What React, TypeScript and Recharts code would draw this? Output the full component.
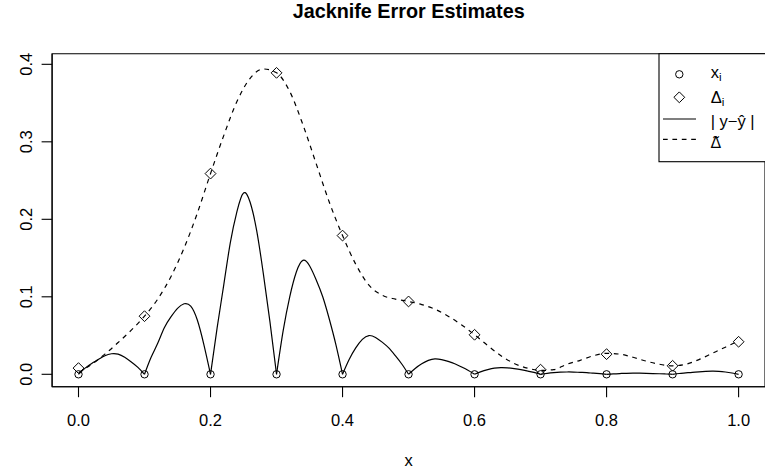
import React from "react";
import { ComposedChart, Line, Scatter, XAxis, YAxis, ReferenceArea } from "recharts";

const FONT = '"Liberation Sans", Arial, Helvetica, sans-serif';

// interpolation nodes x_i and the jackknife estimates at each node
const nodeX = [0, 0.1, 0.2, 0.3, 0.4, 0.5, 0.6, 0.7, 0.8, 0.9, 1.0];
const nodeResidual = [0, 0, 0, 0, 0, 0, 0, 0, 0, 0, 0];
const deltaI = [0.008, 0.075, 0.259, 0.389, 0.179, 0.094, 0.051, 0.006, 0.026, 0.011, 0.042];

// true absolute error |y - yhat| on a fine grid
const errX = [
  0.0, 0.01, 0.02, 0.03, 0.04, 0.05, 0.06, 0.07, 0.08, 0.09,
  0.1, 0.11, 0.12, 0.13, 0.14, 0.15, 0.16, 0.17, 0.18, 0.19,
  0.2, 0.21, 0.22, 0.23, 0.24, 0.25, 0.26, 0.27, 0.28, 0.29,
  0.3, 0.31, 0.32, 0.33, 0.34, 0.35, 0.36, 0.37, 0.38, 0.39,
  0.4, 0.41, 0.42, 0.43, 0.44, 0.45, 0.46, 0.47, 0.48, 0.49,
  0.5, 0.51, 0.52, 0.53, 0.54, 0.55, 0.56, 0.57, 0.58, 0.59,
  0.6, 0.61, 0.62, 0.63, 0.64, 0.65, 0.66, 0.67, 0.68, 0.69,
  0.7, 0.71, 0.72, 0.73, 0.74, 0.75, 0.76, 0.77, 0.78, 0.79,
  0.8, 0.81, 0.82, 0.83, 0.84, 0.85, 0.86, 0.87, 0.88, 0.89,
  0.9, 0.91, 0.92, 0.93, 0.94, 0.95, 0.96, 0.97, 0.98, 0.99,
  1.0,
];
const absErr = [
  0, 0.008, 0.014, 0.019, 0.024, 0.0265, 0.026, 0.022, 0.016, 0.009,
  0, 0.022, 0.04, 0.06, 0.074, 0.085, 0.091, 0.088, 0.07, 0.038,
  0, 0.06, 0.115, 0.17, 0.21, 0.234, 0.222, 0.185, 0.13, 0.068,
  0, 0.056, 0.1, 0.132, 0.147, 0.14, 0.122, 0.1, 0.071, 0.038,
  0, 0.019, 0.034, 0.045, 0.05, 0.0475, 0.0415, 0.034, 0.024, 0.013,
  0, 0.0076, 0.0136, 0.018, 0.02, 0.019, 0.0166, 0.0136, 0.0096, 0.0052,
  0, 0.0035, 0.006, 0.0079, 0.0086, 0.0083, 0.0073, 0.006, 0.0043, 0.0024,
  0, 0.0012, 0.0021, 0.0027, 0.003, 0.0029, 0.0025, 0.0021, 0.0014, 0.0008,
  0, 0.0006, 0.001, 0.0013, 0.0015, 0.0015, 0.0013, 0.001, 0.0007, 0.0004,
  0, 0.001, 0.0018, 0.0026, 0.0032, 0.0037, 0.004, 0.0038, 0.003, 0.0017,
  0,
];

// smoothed jackknife error curve
const smoothX = [
  0.0, 0.02, 0.04, 0.06, 0.08, 0.1, 0.12, 0.14, 0.16, 0.18,
  0.2, 0.22, 0.24, 0.26, 0.28, 0.3, 0.32, 0.34, 0.36, 0.38,
  0.4, 0.42, 0.44, 0.46, 0.48, 0.5, 0.52, 0.54, 0.56, 0.58,
  0.6, 0.62, 0.64, 0.66, 0.68, 0.7, 0.72, 0.74, 0.76, 0.78,
  0.8, 0.82, 0.84, 0.86, 0.88, 0.9, 0.92, 0.94, 0.96, 0.98,
  1.0,
];
const deltaTilde = [
  0.002, 0.013, 0.026, 0.041, 0.057, 0.075, 0.097, 0.126, 0.163, 0.208,
  0.259, 0.308, 0.352, 0.382, 0.394, 0.389, 0.365, 0.322, 0.272, 0.222,
  0.179, 0.142, 0.115, 0.102, 0.097, 0.094, 0.09, 0.084, 0.075, 0.064,
  0.051, 0.037, 0.024, 0.014, 0.008, 0.005, 0.006, 0.013, 0.018, 0.024,
  0.027, 0.026, 0.022, 0.017, 0.013, 0.011, 0.013, 0.019, 0.027, 0.035,
  0.043,
];

const xTicks = [0, 0.2, 0.4, 0.6, 0.8, 1.0];
const yTicks = [0, 0.1, 0.2, 0.3, 0.4];

const X_DOMAIN: [number, number] = [-0.04, 1.04];
const Y_DOMAIN: [number, number] = [-0.016, 0.4137];

const nodes = nodeX.map((x, i) => ({ x, y: nodeResidual[i] }));
const deltas = nodeX.map((x, i) => ({ x, y: deltaI[i] }));
const errRows = errX.map((x, i) => ({ x, y: absErr[i] }));
const smoothRows = smoothX.map((x, i) => ({ x, y: deltaTilde[i] }));

// one piece per interval so the curve has a cusp at every node
const humps = nodeX.slice(0, -1).map((_, k) => errRows.slice(k * 10, k * 10 + 11));

function Circle(props: any) {
  return <circle cx={props.cx} cy={props.cy} r={3.7} fill="none" stroke="#000" strokeWidth={1} />;
}

function Diamond(props: any) {
  const { cx, cy } = props;
  const r = 5.4;
  return (
    <polygon
      points={`${cx},${cy - r} ${cx + r},${cy} ${cx},${cy + r} ${cx - r},${cy}`}
      fill="none"
      stroke="#000"
      strokeWidth={1}
    />
  );
}

function RotatedTick(props: any) {
  const { x, y, payload } = props;
  return (
    <text
      x={x}
      y={y}
      transform={`rotate(-90 ${x} ${y})`}
      textAnchor="middle"
      fontSize={16.5}
      fontFamily={FONT}
      fill="#000"
    >
      {Number(payload.value).toFixed(1)}
    </text>
  );
}

function Overlay() {
  const lx = 679.3;
  const tx = 710.7;
  return (
    <svg
      width={765}
      height={476}
      style={{ position: "absolute", left: 0, top: 0, pointerEvents: "none" }}
      fontFamily={FONT}
    >
      <text x={408.7} y={18.3} textAnchor="middle" fontWeight="bold" fontSize={19.8} fill="#000">
        Jacknife Error Estimates
      </text>
      <text x={408.7} y={465.5} textAnchor="middle" fontSize={16.5} fill="#000">
        x
      </text>

      <rect x={659} y={53.7} width={110} height={108} fill="#fff" stroke="#000" strokeWidth={1.1} />
      <circle cx={lx} cy={74.3} r={3.7} fill="none" stroke="#000" />
      <polygon
        points={`${lx},${97.3 - 5.4} ${lx + 5.4},97.3 ${lx},${97.3 + 5.4} ${lx - 5.4},97.3`}
        fill="none"
        stroke="#000"
      />
      <line x1={663} x2={696} y1={119} y2={119} stroke="#000" strokeWidth={1.2} />
      <line x1={663} x2={696} y1={139.3} y2={139.3} stroke="#000" strokeWidth={1.2} strokeDasharray="4.7 4.7" />

      <text x={tx} y={78.3} fontSize={16.5} fill="#000">
        x<tspan fontSize={11.5} dy={2.5}>i</tspan>
      </text>
      <text x={tx} y={103.3} fontSize={16.5} fill="#000">
        Δ<tspan fontSize={11.5} dy={2.5}>i</tspan>
      </text>
      <text x={tx} y={127.3} fontSize={16.5} fill="#000">
        | y−ŷ |
      </text>
      {/* Noto Sans places the combining tilde over the Delta */}
      <text x={tx} y={148} fontSize={16} fontFamily='"Noto Sans", "DejaVu Sans", sans-serif' fill="#000">
        {"Δ\u0303"}
      </text>
    </svg>
  );
}

export default function App() {
  return (
    <div style={{ position: "absolute", left: 0, top: 0, width: 765, height: 476, background: "#fff" }}>
      <ComposedChart width={765} height={476} margin={{ top: 53.7, right: 0, bottom: 49.3, left: 2.1 }}>
        <XAxis
          type="number"
          dataKey="x"
          domain={X_DOMAIN}
          ticks={xTicks}
          interval={0}
          allowDataOverflow
          height={40}
          tickSize={10.5}
          tickMargin={17}
          tickFormatter={(v: number) => v.toFixed(1)}
          axisLine={{ stroke: "#000", strokeWidth: 1.1 }}
          tickLine={{ stroke: "#000", strokeWidth: 1.1 }}
          tick={{ fill: "#000", fontSize: 16.5, fontFamily: FONT }}
        />
        <YAxis
          type="number"
          domain={Y_DOMAIN}
          ticks={yTicks}
          interval={0}
          allowDataOverflow
          width={50}
          tickSize={10.5}
          tickMargin={9.5}
          axisLine={{ stroke: "#000", strokeWidth: 1.1 }}
          tickLine={{ stroke: "#000", strokeWidth: 1.1 }}
          tick={<RotatedTick />}
        />
        <ReferenceArea
          x1={X_DOMAIN[0]}
          x2={X_DOMAIN[1]}
          y1={Y_DOMAIN[0]}
          y2={Y_DOMAIN[1]}
          fill="none"
          stroke="#000"
          strokeWidth={1.1}
        />
        {humps.map((rows, k) => (
          <Line
            key={`hump-${k}`}
            data={rows}
            dataKey="y"
            type="natural"
            stroke="#000"
            strokeWidth={1.2}
            dot={false}
            activeDot={false}
            isAnimationActive={false}
          />
        ))}
        <Line
          data={smoothRows}
          dataKey="y"
          type="monotone"
          stroke="#000"
          strokeWidth={1.2}
          strokeDasharray="4.7 4.7"
          dot={false}
          activeDot={false}
          isAnimationActive={false}
        />
        <Scatter data={nodes} dataKey="y" shape={<Circle />} isAnimationActive={false} />
        <Scatter data={deltas} dataKey="y" shape={<Diamond />} isAnimationActive={false} />
      </ComposedChart>
      <Overlay />
    </div>
  );
}
